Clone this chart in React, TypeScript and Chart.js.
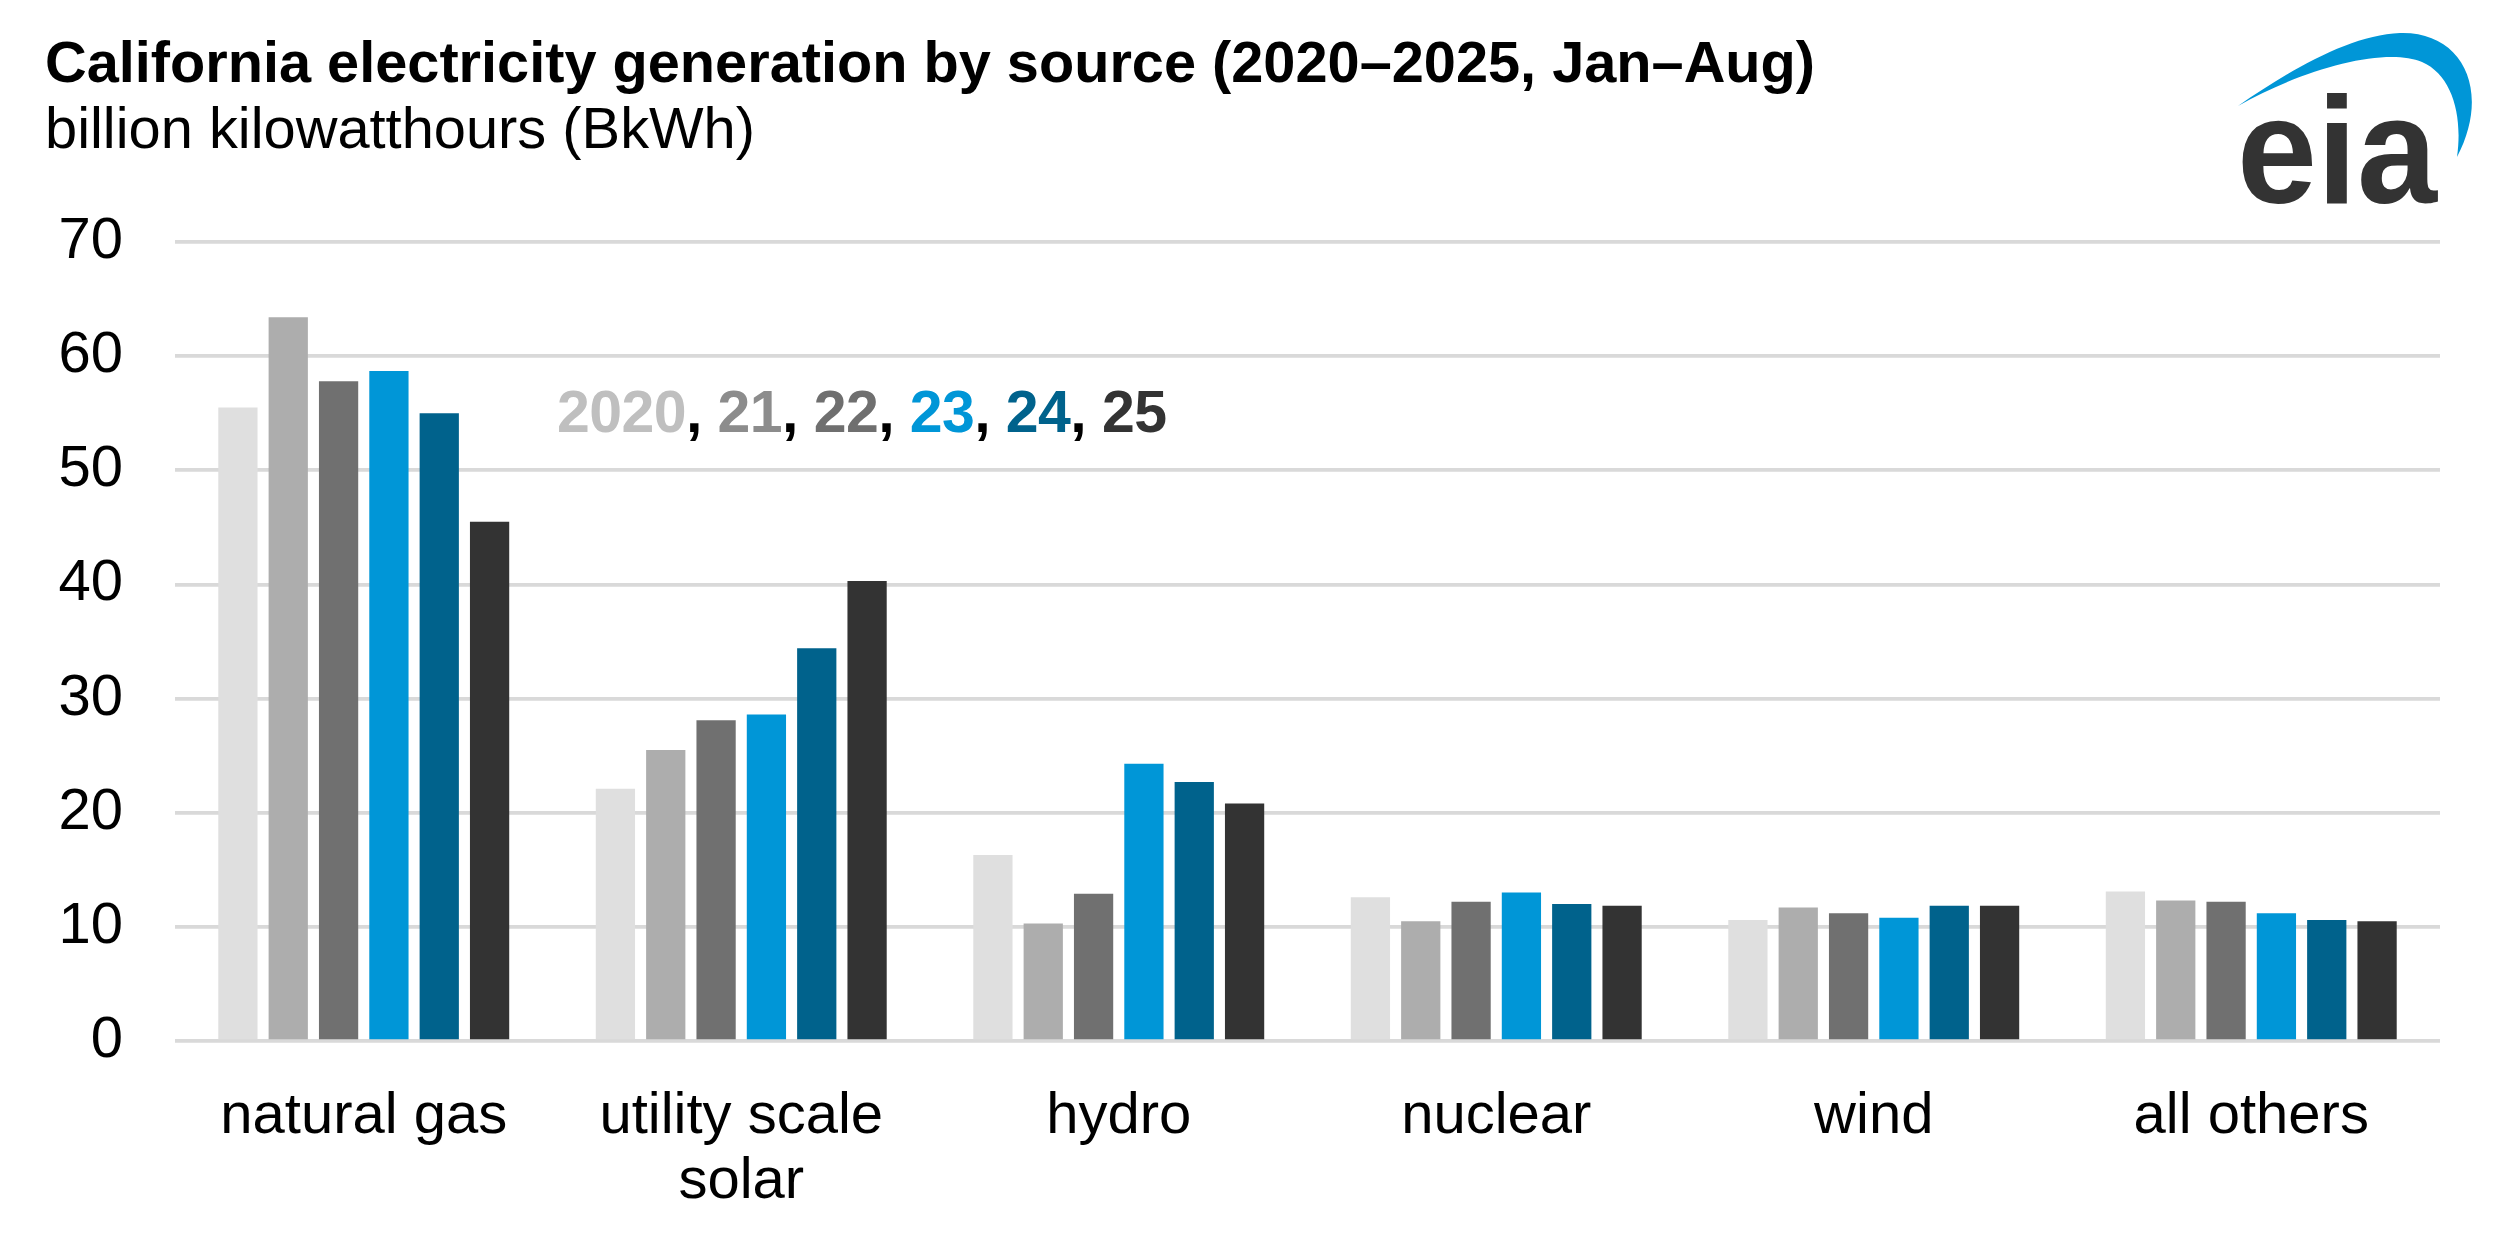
import React, { useEffect, useRef } from "react";
import { Chart, registerables } from "chart.js";

Chart.register(...registerables);

const categories: (string | string[])[] = [
  "natural gas",
  ["utility scale", "solar"],
  "hydro",
  "nuclear",
  "wind",
  "all others",
];

const years = ["2020", "2021", "2022", "2023", "2024", "2025"];
const y2020 = [55.5, 22.1, 16.3, 12.6, 10.6, 13.1];
const y2021 = [63.4, 25.5, 10.3, 10.5, 11.7, 12.3];
const y2022 = [57.8, 28.1, 12.9, 12.2, 11.2, 12.2];
const y2023 = [58.7, 28.6, 24.3, 13.0, 10.8, 11.2];
const y2024 = [55.0, 34.4, 22.7, 12.0, 11.85, 10.6];
const y2025 = [45.5, 40.3, 20.8, 11.85, 11.85, 10.5];

const barColors = ["#dfdfdf", "#adadad", "#707070", "#0096d7", "#00628c", "#333333"];
const legendLabels = ["2020", "21", "22", "23", "24", "25"];
const legendColors = ["#bfbfbf", "#8c8c8c", "#6f6f6f", "#0096d7", "#00628c", "#333333"];

const yTicks = { min: 0, max: 70, step: 10 };

const FONT = "'Liberation Sans', Arial, Helvetica, sans-serif";

export default function App() {
  const canvasRef = useRef<HTMLCanvasElement | null>(null);

  useEffect(() => {
    if (!canvasRef.current) return;
    const series = [y2020, y2021, y2022, y2023, y2024, y2025];
    const chart = new Chart(canvasRef.current, {
      type: "bar",
      data: {
        labels: categories,
        datasets: series.map((d, i) => ({
          label: years[i],
          data: d,
          backgroundColor: barColors[i],
          borderWidth: 0,
          categoryPercentage: 0.8,
          barPercentage: 0.78,
        })),
      },
      options: {
        animation: false,
        responsive: true,
        maintainAspectRatio: false,
        devicePixelRatio: 1,
        layout: { padding: { top: 242, right: 60, bottom: 0, left: 0 } },
        plugins: {
          legend: { display: false },
          tooltip: { enabled: false },
          title: { display: false },
        },
        scales: {
          x: {
            grid: { display: false },
            border: { display: false },
            ticks: {
              color: "#000",
              font: { family: FONT, size: 58, lineHeight: 1.12 },
              padding: 36,
              maxRotation: 0,
              minRotation: 0,
              autoSkip: false,
            },
            afterFit: (s: any) => {
              s.height = 206;
            },
          },
          y: {
            min: yTicks.min,
            max: yTicks.max,
            border: { display: false },
            grid: { color: "#d9d9d9", lineWidth: 3.7, drawTicks: false },
            ticks: {
              stepSize: yTicks.step,
              color: "#000",
              font: { family: FONT, size: 58 },
              padding: 52,
            },
            afterFit: (s: any) => {
              s.width = 175;
            },
          },
        },
      },
    });
    return () => chart.destroy();
  }, []);

  return (
    <div
      style={{
        position: "fixed",
        left: 0,
        top: 0,
        width: 2500,
        height: 1247,
        background: "#fff",
        overflow: "hidden",
      }}
    >
      <div style={{ position: "absolute", left: 0, top: 0, width: 2500, height: 1247 }}>
        <canvas ref={canvasRef} />
      </div>
      <svg
        width={2500}
        height={1247}
        viewBox="0 0 2500 1247"
        style={{ position: "absolute", left: 0, top: 0, pointerEvents: "none" }}
      >
        <text x={45} y={82} fontFamily={FONT} fontWeight="bold" fontSize={58} fill="#000" textLength={1770} lengthAdjust="spacingAndGlyphs">
          California electricity generation by source (2020–2025, Jan–Aug)
        </text>
        <text x={45} y={148} fontFamily={FONT} fontSize={58} fill="#000" textLength={710} lengthAdjust="spacingAndGlyphs">
          billion kilowatthours (BkWh)
        </text>
        <text x={557} y={432} fontFamily={FONT} fontWeight="bold" fontSize={59} textLength={610} lengthAdjust="spacing">
          {legendLabels.map((l, i) => (
            <React.Fragment key={l}>
              <tspan fill={legendColors[i]}>{l}</tspan>
              {i < legendLabels.length - 1 ? <tspan fill="#000">, </tspan> : null}
            </React.Fragment>
          ))}
        </text>
        <path
          d="M2238,106 C2290,70 2350,35 2400,33 C2462,31 2492,90 2457,157 C2463,115 2452,75 2422,62 C2385,47 2305,68 2238,106 Z"
          fill="#0096d7"
        />
        <text x={2237} y={203} fontFamily={FONT} fontWeight="bold" fontSize={152} fill="#333333" textLength={200} lengthAdjust="spacingAndGlyphs">
          eia
        </text>
      </svg>
    </div>
  );
}
